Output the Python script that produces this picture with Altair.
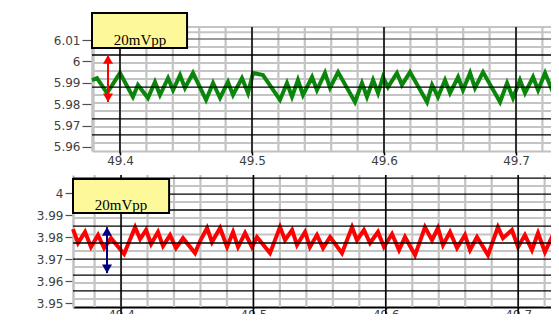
import altair as alt
import pandas as pd

# ---------------- data ----------------
# upper trace (green): time and volts
top_t = [49.3788, 49.3826, 49.3902, 49.4000, 49.4098, 49.4136, 49.4212, 49.4265, 49.4303, 49.4364,
         49.4402, 49.4455, 49.4492, 49.4553, 49.4652, 49.4705, 49.4758, 49.4818, 49.4856, 49.4924,
         49.4970, 49.5008, 49.5083, 49.5212, 49.5265, 49.5303, 49.5348, 49.5386, 49.5455, 49.5492,
         49.5553, 49.5591, 49.5652, 49.5780, 49.5833, 49.5871, 49.5917, 49.5955, 49.5992, 49.6030,
         49.6098, 49.6136, 49.6197, 49.6326, 49.6364, 49.6409, 49.6462, 49.6500, 49.6561, 49.6598,
         49.6652, 49.6689, 49.6750, 49.6879, 49.6932, 49.6977, 49.7030, 49.7068, 49.7129, 49.7167,
         49.7220, 49.7273, 49.7311, 49.7371]
top_v = [5.9913, 5.9922, 5.9852, 5.9946, 5.9834, 5.9890, 5.9829, 5.9904, 5.9843, 5.9922,
         5.9866, 5.9936, 5.9876, 5.9946, 5.9820, 5.9899, 5.9829, 5.9904, 5.9843, 5.9922,
         5.9852, 5.9946, 5.9936, 5.9820, 5.9899, 5.9834, 5.9913, 5.9843, 5.9927, 5.9866,
         5.9946, 5.9876, 5.9950, 5.9810, 5.9899, 5.9834, 5.9913, 5.9852, 5.9927, 5.9880,
         5.9946, 5.9890, 5.9950, 5.9810, 5.9890, 5.9834, 5.9913, 5.9852, 5.9927, 5.9866,
         5.9946, 5.9876, 5.9950, 5.9810, 5.9899, 5.9829, 5.9913, 5.9852, 5.9927, 5.9866,
         5.9946, 5.9866, 5.9950, 5.9890]

# lower trace (red)
bot_t = [49.3637, 49.3675, 49.3728, 49.3773, 49.3826, 49.3872, 49.3924, 49.4023,
         49.4106, 49.4144, 49.4189, 49.4227, 49.4279, 49.4317, 49.4370, 49.4415, 49.4468, 49.4559, 49.4597,
         49.4650, 49.4687, 49.4748, 49.4801, 49.4846, 49.4884, 49.4937, 49.4989, 49.5027, 49.5125,
         49.5201, 49.5239, 49.5292, 49.5329, 49.5390, 49.5427, 49.5480, 49.5526, 49.5579, 49.5669,
         49.5745, 49.5782, 49.5835, 49.5881, 49.5941, 49.5986, 49.6047, 49.6100, 49.6145, 49.6221,
         49.6296, 49.6349, 49.6394, 49.6432, 49.6485, 49.6538, 49.6598, 49.6636, 49.6689, 49.6772,
         49.6847, 49.6885, 49.6953, 49.6999, 49.7051, 49.7104, 49.7150, 49.7202, 49.7255, 49.7293, 49.7353]
bot_v = [3.9836, 3.9773, 3.9823, 3.9755, 3.9809, 3.9750, 3.9795, 3.9723,
         3.9845, 3.9791, 3.9832, 3.9768, 3.9823, 3.9759, 3.9809, 3.9750, 3.9795, 3.9727, 3.9782,
         3.9841, 3.9777, 3.9841, 3.9755, 3.9823, 3.9755, 3.9818, 3.9755, 3.9800, 3.9727,
         3.9845, 3.9786, 3.9832, 3.9764, 3.9823, 3.9755, 3.9809, 3.9750, 3.9800, 3.9727,
         3.9845, 3.9786, 3.9832, 3.9773, 3.9823, 3.9755, 3.9814, 3.9741, 3.9800, 3.9718,
         3.9845, 3.9786, 3.9841, 3.9764, 3.9823, 3.9750, 3.9809, 3.9741, 3.9800, 3.9718,
         3.9845, 3.9795, 3.9832, 3.9755, 3.9809, 3.9741, 3.9818, 3.9732, 3.9800, 3.9732, 3.9786]

# axes, ticks and grid values
x_major = [49.4, 49.5, 49.6, 49.7]
top_x_minor = [49.38, 49.40, 49.42, 49.44, 49.46, 49.48, 49.50, 49.52, 49.54, 49.56,
               49.58, 49.60, 49.62, 49.64, 49.66, 49.68, 49.70, 49.72]
bot_x_minor = [49.38, 49.40, 49.42, 49.44, 49.46, 49.48, 49.50, 49.52, 49.54, 49.56,
               49.58, 49.60, 49.62, 49.64, 49.66, 49.68, 49.70, 49.72]
top_y_ticks = [5.96, 5.97, 5.98, 5.99, 6.0, 6.01]
bot_y_ticks = [3.95, 3.96, 3.97, 3.98, 3.99, 4.0]
top_h_black = [6.0030, 5.9880, 5.9731, 5.9656]
top_h_dark = [6.0105]
top_h_gray = [6.0161, 6.0137, 6.0067, 5.9993, 5.9955, 5.9918, 5.9843, 5.9806, 5.9768,
              5.9693, 5.9619]
bot_h_black = [4.0068, 3.9995, 3.9923, 3.9850, 3.9773, 3.9700, 3.9627, 3.9555]
bot_h_gray = [4.0032, 3.9959, 3.9886, 3.9811, 3.9736, 3.9664, 3.9591, 3.9518]

top_x_domain = [49.3788, 49.7265]
top_y_domain = [5.9581, 6.0161]
top_major_low = 5.9570
bot_x_domain = [49.3637, 49.7248]
bot_y_domain = [3.9482, 4.0082]
bot_major_low = 3.9450

note_text = "20mVpp"
top_box = {"x1": [49.3788], "x2": [49.4508], "y1": [6.0226], "y2": [6.0063]}
top_note = {"t": [49.4152], "v": [6.0076]}
top_arrow = {"t": [49.3909], "v1": [6.0030], "v2": [5.9810]}
bot_box = {"x1": [49.3637], "x2": [49.4363], "y1": [4.0064], "y2": [3.9909]}
bot_note = {"t": [49.4000], "v": [3.9923]}
bot_arrow = {"t": [49.3894], "v1": [3.9845], "v2": [3.9636]}

# ---------------- layout (view pixels) ----------------
W, H = 543, 306
LAB = dict(labelFont="DejaVu Sans", labelFontSize=12, labelColor="#404040")


def panel(t, v, color, xdom, ydom, major_low, xr, yr, xminor, hblack, hgray, hdark,
          yticks, yaxis_off, ytick, xaxis_off, xdomcol, xtick,
          box, note, arrow, arrow_color):
    xs = alt.Scale(domain=xdom, range=xr, nice=False, zero=False)
    ys = alt.Scale(domain=ydom, range=yr, nice=False, zero=False)
    xa = alt.Axis(orient="bottom", offset=xaxis_off, values=x_major, format="~g", grid=False,
                  title=None, domainColor=xdomcol, domainWidth=2, tickColor="#000000",
                  tickSize=xtick, tickWidth=1.5, labelPadding=0, labelFlush=False,
                  labelOverlap=False, **LAB)
    ya = alt.Axis(orient="left", offset=yaxis_off, values=yticks, format="~g", grid=False,
                  title=None, domainColor="#c0c0c0", domainWidth=2.5, tickColor="#505050",
                  tickSize=ytick, tickWidth=1.2, labelPadding=2, labelOverlap=False, **LAB)

    def X(f):
        return alt.X(f, scale=xs, axis=xa)

    def Y(f):
        return alt.Y(f, scale=ys, axis=ya)

    def vr(vals, lo, col, w):
        df = pd.DataFrame({"t": vals, "a": lo, "b": ydom[1]})
        return alt.Chart(df).mark_rule(color=col, strokeWidth=w).encode(
            x=X("t:Q"), y=Y("a:Q"), y2="b:Q")

    def hr(vals, col, w):
        df = pd.DataFrame({"v": vals, "a": xdom[0], "b": xdom[1]})
        return alt.Chart(df).mark_rule(color=col, strokeWidth=w).encode(
            y=Y("v:Q"), x=X("a:Q"), x2="b:Q")

    line = alt.Chart(pd.DataFrame({"t": t, "v": v})).mark_line(
        color=color, strokeWidth=4, clip=True).encode(x=X("t:Q"), y=Y("v:Q"))

    boxl = alt.Chart(pd.DataFrame(box)).mark_rect(
        fill="#fdf99b", stroke="#000000", strokeWidth=2).encode(
        x=X("x1:Q"), x2="x2:Q", y=Y("y1:Q"), y2="y2:Q")
    txt = alt.Chart(pd.DataFrame(note)).mark_text(
        text=note_text, font="Liberation Serif", fontSize=15, baseline="alphabetic",
        align="center", color="#000000").encode(x=X("t:Q"), y=Y("v:Q"))
    adf = pd.DataFrame(arrow)
    shaft = alt.Chart(adf).mark_rule(color=arrow_color, strokeWidth=2).encode(
        x=X("t:Q"), y=Y("v1:Q"), y2="v2:Q")
    head1 = alt.Chart(adf).mark_point(shape="triangle-up", filled=True, size=100, opacity=1,
                                      color=arrow_color, yOffset=4.3).encode(
        x=X("t:Q"), y=Y("v1:Q"))
    head2 = alt.Chart(adf).mark_point(shape="triangle-down", filled=True, size=100, opacity=1,
                                      color=arrow_color, yOffset=-4.3).encode(
        x=X("t:Q"), y=Y("v2:Q"))

    layers = [hr(hgray, "#c4c4c4", 2), vr(xminor, ydom[0], "#c4c4c4", 2.2), line]
    if hdark:
        layers.append(hr(hdark, "#7a7a7a", 1.5))
    layers += [hr(hblack, "#000000", 1.3), vr(x_major, major_low, "#000000", 1.5),
               boxl, txt, shaft, head1, head2]
    return alt.layer(*layers)


top = panel(top_t, top_v, "#0a870a", top_x_domain, top_y_domain, top_major_low,
            [84, W], [143, 19], top_x_minor, top_h_black, top_h_gray, top_h_dark,
            top_y_ticks, -84, 10, 143 - H, "#c0c0c0", 4,
            top_box, top_note, top_arrow, "#ff0000")
bot = panel(bot_t, bot_v, "#ff0000", bot_x_domain, bot_y_domain, bot_major_low,
            [65, W], [299, 167], bot_x_minor, bot_h_black, bot_h_gray, [],
            bot_y_ticks, -65, 8, 299 - H, "#000000", 2,
            bot_box, bot_note, bot_arrow, "#000080")

chart = alt.layer(top, bot).resolve_scale(x="independent", y="independent").properties(
    width=W, height=H, autosize=alt.AutoSizeParams(type="none"), padding=0,
    background="#ffffff").configure_view(stroke=None)

chart.save("out.html", embed_options={"renderer": "svg", "actions": False})
